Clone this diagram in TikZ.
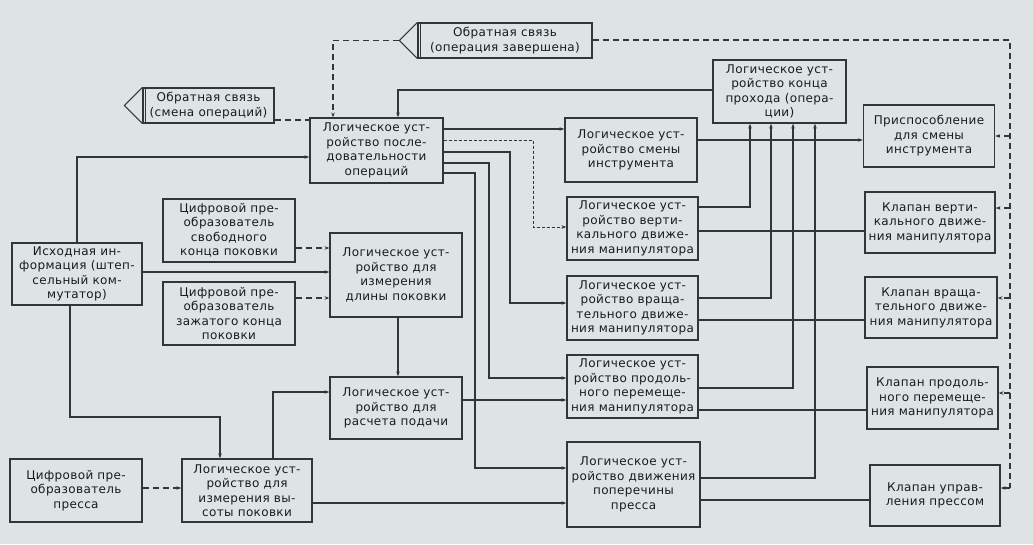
\documentclass[tikz,border=0pt]{standalone}
\usepackage{fontspec}
\setmainfont{DejaVu Sans}[LetterSpace=3]
\usetikzlibrary{arrows.meta}
\definecolor{paper}{HTML}{DEE3E3}
\definecolor{ink}{HTML}{333636}
\definecolor{txt}{HTML}{1A1C1C}
\tikzset{
  blk/.style={draw=ink, line width=1.2pt, align=center, inner sep=0pt, text=txt,
    font=\fontsize{12}{14.5}\selectfont},
  sz/.style 2 args={minimum width=#1pt, minimum height=#2pt},
  ln/.style={draw=ink, line width=1.1pt},
  arr/.style={ln, -{Stealth[length=5pt,width=3.5pt]}},
  dln/.style={ln, dash pattern=on 6pt off 4pt},
  darr/.style={dln, -{Stealth[length=5pt,width=3.5pt]}},
  tln/.style={draw=ink, line width=0.8pt, dash pattern=on 3pt off 2pt, -{Stealth[length=5pt,width=3.5pt]}},
}
\begin{document}
\begin{tikzpicture}[x=1pt,y=-1pt]
\fill[paper] (0,0) rectangle (1033,544);
\useasboundingbox (0,0) rectangle (1033,544);

% ---- boxes ----
\node[blk, sz={133}{65}] (lupo) at (376.5,150.5) {Логическое уст-\\ройство после-\\довательности\\операций};
\node[blk, sz={132}{64}] (smena) at (631,150) {Логическое уст-\\ройство смены\\инструмента};
\node[blk, sz={131}{63}] (vert) at (632.5,228.5) {Логическое уст-\\ройство верти-\\кального движе-\\ния манипулятора};
\node[blk, sz={131}{64}] (vrash) at (632.5,308) {Логическое уст-\\ройство враща-\\тельного движе-\\ния манипулятора};
\node[blk, sz={131}{63}] (prod) at (632.5,386.5) {Логическое уст-\\ройство продоль-\\ного перемеще-\\ния манипулятора};
\node[blk, sz={133}{85}] (poper) at (633.5,484.5) {Логическое уст-\\ройство движения\\поперечины\\пресса};
\node[blk, sz={133}{63}] (konec) at (779.5,91.5) {Логическое уст-\\ройство конца\\прохода (опера-\\ции)};
\node[blk, sz={131}{62}] (prisp) at (929,136) {Приспособление\\для смены\\инструмента};
\node[blk, sz={130}{61}] (kvert) at (930,222.5) {Клапан верти-\\кального движе-\\ния манипулятора};
\node[blk, sz={132}{61}] (kvrash) at (931,307.5) {Клапан враща-\\тельного движе-\\ния манипулятора};
\node[blk, sz={131}{62}] (kprod) at (932.5,398) {Клапан продоль-\\ного перемеще-\\ния манипулятора};
\node[blk, sz={130}{61}] (kupr) at (935,495.5) {Клапан управ-\\ления прессом};

\node[blk, sz={130}{62}] (isx) at (77,274) {Исходная ин-\\формация (штеп-\\сельный ком-\\мутатор)};
\node[blk, sz={132}{63}] (cpsv) at (229,230.5) {Цифровой пре-\\образователь\\свободного\\конца поковки};
\node[blk, sz={132}{63}] (cpzh) at (229,313.5) {Цифровой пре-\\образователь\\зажатого конца\\поковки};
\node[blk, sz={132}{84}] (dlin) at (396,275) {Логическое уст-\\ройство для\\измерения\\длины поковки};
\node[blk, sz={132}{62}] (rasch) at (396,408) {Логическое уст-\\ройство для\\расчета подачи};
\node[blk, sz={132}{63}] (cppr) at (76,490.5) {Цифровой пре-\\образователь\\пресса};
\node[blk, sz={130}{63}] (vys) at (247,490.5) {Логическое уст-\\ройство для\\измерения вы-\\соты поковки};

\node[blk, sz={131}{35}] (fb1) at (208.5,105.5) {Обратная связь\\(смена операций)};
\node[blk, sz={174}{35}] (fb2) at (505,40.5) {Обратная связь\\(операция завершена)};
\draw[ln] ([xshift=3]fb1.north west) -- ([xshift=3]fb1.south west);
\draw[ln] ([xshift=3]fb2.north west) -- ([xshift=3]fb2.south west);
\coordinate (fb1tip) at ([xshift=-18]fb1.west);
\coordinate (fb2tip) at ([xshift=-18]fb2.west);
\draw[ln] (fb1.north west) -- (fb1tip) -- (fb1.south west);
\draw[ln] (fb2.north west) -- (fb2tip) -- (fb2.south west);

% ---- left part ----
\draw[arr] (isx.north) |- (lupo.west |- 0,157);
\draw[arr] (isx.south -| 70,0) -- (70,417) -| (vys.north -| 220,0);
\draw[darr] (cpsv.east |- 0,248) -- (dlin.west |- 0,248);
\draw[arr] (isx.east |- 0,272) -- (dlin.west |- 0,272);
\draw[darr] (cpzh.east |- 0,298) -- (dlin.west |- 0,298);
\draw[arr] (dlin.south -| 398,0) -- (rasch.north -| 398,0);
\draw[arr] (vys.north -| 273,0) |- (rasch.west |- 0,392);
\draw[darr] (cppr.east |- 0,488) -- (vys.west |- 0,488);

% ---- feedback into lupo ----
\draw[dln] (fb1.east |- 0,120) -- (lupo.west |- 0,120);
\draw[darr] (fb2tip) -| (lupo.north -| 333,0);
\draw[arr] (konec.west |- 0,90) -| (lupo.north -| 398,0);

% ---- lupo outputs ----
\draw[arr] (lupo.east |- 0,129) -- (smena.west |- 0,129);
\draw[tln] (lupo.east |- 0,140) -- (533,140) |- (vert.west |- 0,227);
\draw[arr] (lupo.east |- 0,152) -- (510,152) |- (vrash.west |- 0,303);
\draw[arr] (lupo.east |- 0,163) -- (489,163) |- (prod.west |- 0,378);
\draw[arr] (lupo.east |- 0,173) -- (475,173) |- (poper.west |- 0,468);
\draw[arr] (rasch.east |- 0,400) -- (prod.west |- 0,400);
\draw[arr] (vys.east |- 0,503) -- (poper.west |- 0,503);

% ---- right part ----
\draw[arr] (smena.east |- 0,140) -- (prisp.west |- 0,140);
\draw[ln] (vert.east |- 0,231) -- (kvert.west |- 0,231);
\draw[ln] (vrash.east |- 0,320) -- (kvrash.west |- 0,320);
\draw[ln] (prod.east |- 0,410) -- (kprod.west |- 0,410);
\draw[ln] (poper.east |- 0,500) -- (kupr.west |- 0,500);
\draw[arr] (vert.east |- 0,207) -| (konec.south -| 750,0);
\draw[arr] (vrash.east |- 0,298) -| (konec.south -| 771,0);
\draw[arr] (prod.east |- 0,388) -| (konec.south -| 793,0);
\draw[arr] (poper.east |- 0,478) -| (konec.south -| 815,0);

% ---- feedback bus ----
\coordinate (busT) at (1010,40);
\coordinate (busB) at (1010,488);
\draw[dln] (fb2.east |- busT) -- (busT) -- (busB);
\draw[darr] (busT |- prisp.east) -- (prisp.east);
\draw[darr] (1010,208) -- (kvert.east |- 0,208);
\draw[darr] (1010,298) -- (kvrash.east |- 0,298);
\draw[darr] (1010,393) -- (kprod.east |- 0,393);
\draw[darr] (busB) -- (kupr.east |- busB);
\end{tikzpicture}
\end{document}
